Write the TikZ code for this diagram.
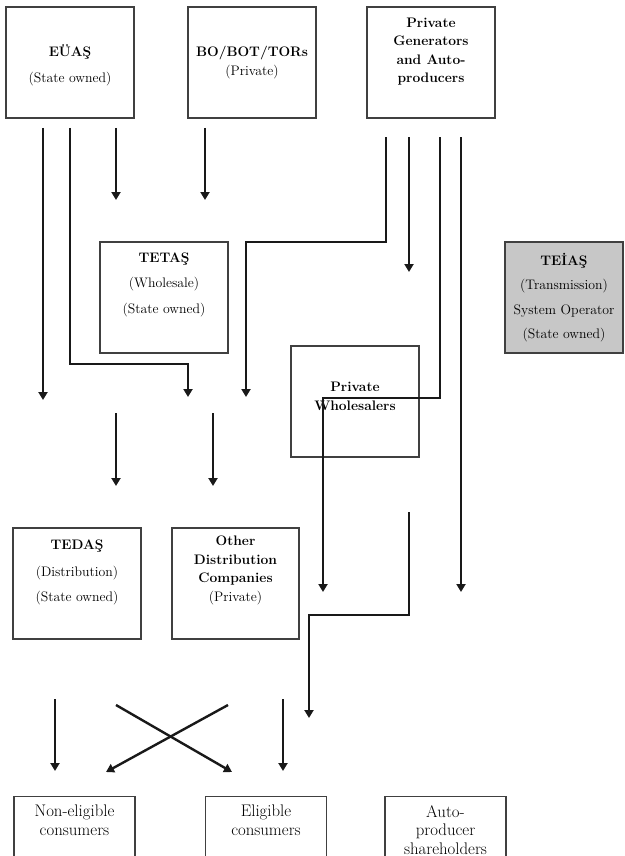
\documentclass[tikz,border=0pt]{standalone}
\usetikzlibrary{arrows.meta,positioning}

\begin{document}
\begin{tikzpicture}[x=1pt, y=-1pt,
        every node/.style={inner sep=0pt, align=center}]
        \tikzstyle{boxStyle} = [draw=black!75, line width=1.1pt,
            minimum width=128pt, minimum height=111pt]
        \tikzstyle{lowBox} = [boxStyle, minimum width=121pt,
            minimum height=90pt, anchor=north]
        \tikzstyle{textStyle} = [font=\fontsize{13.8}{18.5}\selectfont]
        \tikzstyle{titleStyle} = [font=\fontsize{13.8}{18.5}\selectfont\bfseries]
        \tikzstyle{lowText} = [font=\fontsize{16.8}{18.5}\selectfont, anchor=north]
        \tikzstyle{flowEdge} = [draw=black!90, line width=2.4pt,
            -{Triangle[length=8pt,width=9pt]}]
        \useasboundingbox (0,0) rectangle (624,856);
        \clip (0,0) rectangle (624,856);
        % boxes
        \node[boxStyle] (euas) at (70,62.5) {};
        \node[boxStyle] (bot) at (252,62.5) {};
        \node[boxStyle] (gen) at (431,62.5) {};
        \node[boxStyle] (tetas) at (164,297.5) {};
        \node[boxStyle, fill=black!22, minimum width=118pt] (teias) at (564,297.5) {};
        \node[boxStyle] (whole) at (355,401.5) {};
        \node[boxStyle] (tedas) at (77,583.5) {};
        \node[boxStyle, minimum width=127pt] (dist) at (235.5,583.5) {};
        \node[lowBox] (nonel) at (74.5,796) {};
        \node[lowBox] (elig) at (266,796) {};
        \node[lowBox] (auto) at (445.5,796) {};
        % texts
        \node[textStyle, yshift=-3pt] (euasText) at (euas) {\textbf{EÜAŞ}\\[7pt](State owned)};
        \node[textStyle] (botText) at (bot) {\textbf{BO/BOT/TORs}\\(Private)};
        \node[titleStyle, yshift=11pt] (genText) at (gen)
            {Private\\Generators\\and Auto-\\producers};
        \node[textStyle, yshift=13pt] (tetasText) at (tetas)
            {\textbf{TETAŞ}\\[7pt](Wholesale)\\[7pt](State owned)};
        \node[textStyle] (teiasText) at (teias)
            {\textbf{TEİAŞ}\\[6pt](Transmission)\\[6pt]System Operator\\[6pt](State owned)};
        \node[titleStyle, yshift=5pt] (wholeText) at (whole) {Private\\Wholesalers};
        \node[textStyle, yshift=11.5pt] (tedasText) at (tedas)
            {\textbf{TEDAŞ}\\[9pt](Distribution)\\[6pt](State owned)};
        \node[textStyle, yshift=13pt] (distText) at (dist)
            {\textbf{Other}\\\textbf{Distribution}\\\textbf{Companies}\\(Private)};
        \node[lowText] (nonelText) at (74.5,805) {Non-eligible\\consumers};
        \node[lowText] (eligText) at (266,805) {Eligible\\consumers};
        \node[lowText] (autoText) at (445.5,805) {Auto-\\producer\\shareholders};
        % connector ends
        \coordinate (u1) at (43,128);
        \coordinate (u1e) at (43,400);
        \coordinate (u2) at (70,128);
        \coordinate (u2a) at (70,364);
        \coordinate (u2b) at (188,364);
        \coordinate (u2e) at (188,397);
        \coordinate (u3) at (116,128);
        \coordinate (u3e) at (116,200);
        \coordinate (b1) at (205,128);
        \coordinate (b1e) at (205,200);
        \coordinate (g1) at (386,137);
        \coordinate (g1a) at (386,242);
        \coordinate (g1b) at (246,242);
        \coordinate (g1e) at (246,397);
        \coordinate (g2) at (409,137);
        \coordinate (g2e) at (409,272);
        \coordinate (g3) at (440,137);
        \coordinate (g3a) at (440,398);
        \coordinate (g3b) at (323,398);
        \coordinate (g3e) at (323,592);
        \coordinate (g4) at (461,137);
        \coordinate (g4e) at (461,592);
        \coordinate (t1) at (116,413);
        \coordinate (t1e) at (116,486);
        \coordinate (t2) at (213,413);
        \coordinate (t2e) at (213,486);
        \coordinate (w1) at (409,512);
        \coordinate (w1a) at (409,615);
        \coordinate (w1b) at (309,615);
        \coordinate (w1e) at (309,718);
        \coordinate (d1) at (55,699);
        \coordinate (d1e) at (55,771);
        \coordinate (d2) at (116,705);
        \coordinate (d2e) at (232,772);
        \coordinate (d3) at (228,705);
        \coordinate (d3e) at (106,772);
        \coordinate (d4) at (283,699);
        \coordinate (d4e) at (283,771);
        % flows
        \foreach \from/\to in {u1/u1e, u3/u3e, b1/b1e, g2/g2e, g4/g4e,
                                t1/t1e, t2/t2e, d1/d1e, d2/d2e, d3/d3e, d4/d4e}
            \path[flowEdge] (\from) -- (\to);
        \foreach \from/\via/\over/\to in {u2/u2a/u2b/u2e, g1/g1a/g1b/g1e,
                                g3/g3a/g3b/g3e, w1/w1a/w1b/w1e}
            \path[flowEdge] (\from) -- (\via) -- (\over) -- (\to);
    \end{tikzpicture}
\end{document}
